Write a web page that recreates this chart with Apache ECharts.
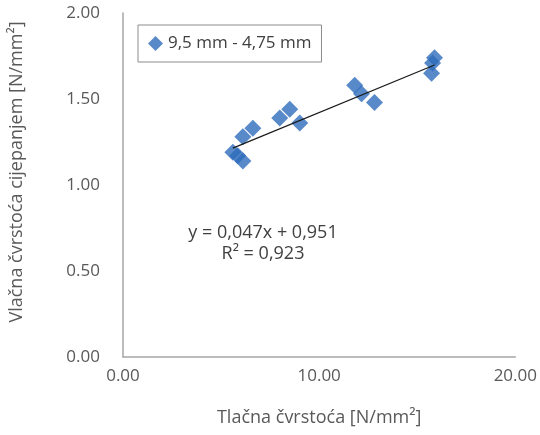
<!DOCTYPE html>
<html>
<head>
<meta charset="utf-8">
<script src="https://cdn.jsdelivr.net/npm/echarts@6/dist/echarts.min.js"></script>
<style>
  html, body { margin: 0; padding: 0; background: #fff; }
  #chart { width: 540px; height: 435px; }
</style>
</head>
<body>
<div id="chart"></div>
<script>
// Compressive strength (x) vs. splitting tensile strength (y), fraction 9,5 mm - 4,75 mm
const seriesName = '9,5 mm - 4,75 mm';
const compressive = [5.60, 5.85, 6.11, 6.11, 6.62, 7.99, 8.50, 9.01, 11.81, 12.16, 12.82, 15.73, 15.78, 15.88];
const tensile     = [1.19, 1.17, 1.14, 1.28, 1.33, 1.39, 1.44, 1.36, 1.58, 1.53, 1.48, 1.65, 1.71, 1.74];
const trendCoef = [0.047, 0.951];   // slope, intercept
const rSquared = '0,923';
const xTicks = [0, 10, 20];
const yTicks = [0, 0.5, 1, 1.5, 2];
const xTitle = 'Tlačna čvrstoća [N/mm²]';
const yTitle = 'Vlačna čvrstoća cijepanjem [N/mm²]';

const points = compressive.map((x, i) => [x, tensile[i]]);
const xMin = Math.min(...compressive);
const xMax = Math.max(...compressive);
const trend = [xMin, xMax].map(x => [x, trendCoef[0] * x + trendCoef[1]]);
const fmt = v => v.toFixed(3).replace('.', ',');

const font = '"Open Sans", "Noto Sans", sans-serif';
const grey = '#595959';
const dark = '#404040';

const chart = echarts.init(document.getElementById('chart'));
chart.setOption({
  animation: false,
  textStyle: { fontFamily: font },
  grid: { left: 123, right: 24, top: 13, bottom: 78 },
  legend: {
    data: [seriesName],
    left: 138, top: 25,
    padding: [10, 10, 10, 10],
    itemWidth: 15, itemHeight: 15, itemGap: 4,
    borderColor: '#8c8c8c', borderWidth: 1,
    backgroundColor: '#fff',
    textStyle: { fontFamily: font, fontSize: 17, color: dark }
  },
  xAxis: {
    type: 'value', min: xTicks[0], max: xTicks[xTicks.length - 1], interval: xTicks[1] - xTicks[0],
    name: xTitle, nameLocation: 'middle', nameGap: 52,
    nameTextStyle: { fontFamily: font, fontSize: 18, color: grey },
    axisLine: { show: true, lineStyle: { color: '#a6a6a6', width: 1.5 } },
    axisTick: { show: false },
    splitLine: { show: false },
    axisLabel: { margin: 11, fontSize: 17, color: grey, formatter: v => v.toFixed(2) }
  },
  yAxis: {
    type: 'value', min: yTicks[0], max: yTicks[yTicks.length - 1], interval: yTicks[1] - yTicks[0],
    axisLine: { show: true, lineStyle: { color: '#a6a6a6', width: 1.5 } },
    axisTick: { show: false },
    splitLine: { show: false },
    axisLabel: { margin: 23, fontSize: 17, color: grey, formatter: v => v.toFixed(2) }
  },
  series: [
    {
      name: seriesName, type: 'scatter', symbol: 'diamond', symbolSize: 17,
      itemStyle: { color: '#2e6cbc' },
      data: points, z: 2
    },
    {
      name: 'trend', type: 'line', data: trend, showSymbol: false, symbol: 'none',
      lineStyle: { color: '#1a1a1a', width: 1.2 }, z: 3, silent: true
    }
  ],
  graphic: [
    {
      type: 'text', x: 17, y: 172, rotation: Math.PI / 2,
      style: {
        text: yTitle, font: '18px ' + font, fill: grey,
        align: 'center', verticalAlign: 'middle'
      }
    },
    {
      type: 'text', x: 263, y: 222,
      style: {
        text: 'y = ' + fmt(trendCoef[0]) + 'x + ' + fmt(trendCoef[1]) + '\nR² = ' + rSquared,
        font: '18px ' + font, fill: dark, align: 'center', lineHeight: 21
      }
    }
  ]
});
</script>
</body>
</html>
